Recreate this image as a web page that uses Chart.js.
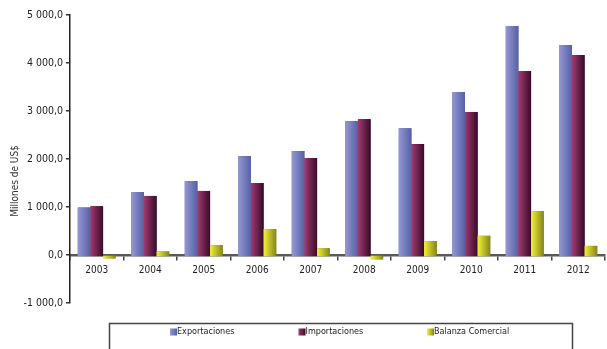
<!DOCTYPE html>
<html>
<head>
<meta charset="utf-8">
<script src="https://cdn.jsdelivr.net/npm/chart.js@4/dist/chart.umd.min.js"></script>
<style>
  html, body { margin: 0; padding: 0; background: #fff; }
  #wrap { width: 607px; height: 349px; }
</style>
</head>
<body>
<div id="wrap"><canvas id="chart"></canvas></div>
<script>
// ====== Data ======
const years = ["2003", "2004", "2005", "2006", "2007", "2008", "2009", "2010", "2011", "2012"];
const exportaciones = [990, 1310, 1540, 2060, 2165, 2790, 2640, 3395, 4770, 4375];
const importaciones = [1015, 1230, 1335, 1500, 2020, 2830, 2310, 2980, 3830, 4165];
const balanza = [-35, 75, 205, 540, 140, -55, 290, 400, 915, 190];
const yTicks = [-1000, 0, 1000, 2000, 3000, 4000, 5000];

const FONT = '"Liberation Sans Narrow", "DejaVu Sans Condensed", "Arial Narrow", sans-serif';

// light -> dark, left to right
const shades = [
  ["#9498d2", "#5660a6"],
  ["#a03c72", "#3a0a28"],
  ["#f2f236", "#84841c"]
];

function fmt(v) {
  const neg = v < 0;
  const s = Math.abs(v).toFixed(0).replace(/\B(?=(\d{3})+(?!\d))/g, " ");
  return (neg ? "-" : "") + s + ",0";
}

function grad(ctx, x0, x1, pair) {
  const g = ctx.createLinearGradient(x0, 0, x1, 0);
  g.addColorStop(0, pair[0]);
  g.addColorStop(1, pair[1]);
  return g;
}

// ====== Plugins ======
const shadedBars = {
  id: "shadedBars",
  afterDatasetsDraw(chart) {
    const ctx = chart.ctx;
    chart.data.datasets.forEach((ds, i) => {
      const meta = chart.getDatasetMeta(i);
      meta.data.forEach(bar => {
        const x0 = bar.x - bar.width / 2, x1 = bar.x + bar.width / 2;
        const top = Math.min(bar.y, bar.base), bot = Math.max(bar.y, bar.base) + 2;
        ctx.fillStyle = grad(ctx, x0, x1, shades[i]);
        ctx.fillRect(x0, top, bar.width, bot - top);
      });
    });
  }
};

const sideTitle = {
  id: "sideTitle",
  afterDraw(chart) {
    const ctx = chart.ctx;
    ctx.save();
    ctx.translate(15, 181);
    ctx.rotate(-Math.PI / 2);
    ctx.font = "10px " + FONT;
    ctx.fillStyle = "#333";
    ctx.textAlign = "center";
    ctx.textBaseline = "middle";
    ctx.fillText("Millones de US$", 0, 0);
    ctx.restore();
  }
};

const boxLegend = {
  id: "boxLegend",
  afterDraw(chart) {
    const ctx = chart.ctx;
    ctx.save();
    ctx.strokeStyle = "#444";
    ctx.lineWidth = 1.5;
    ctx.strokeRect(109.5, 323.5, 463, 40);
    ctx.font = "9px " + FONT;
    ctx.textBaseline = "middle";
    chart.data.datasets.forEach((ds, i) => {
      const x = 170 + i * 128.5, y = 332;
      ctx.fillStyle = grad(ctx, x, x + 7, shades[i]);
      ctx.fillRect(x, y - 3.5, 7, 7);
      ctx.fillStyle = "#222";
      ctx.fillText(ds.label, x + 7, y);
    });
    ctx.restore();
  }
};

// ====== Chart ======
new Chart(document.getElementById("chart"), {
  type: "bar",
  data: {
    labels: years,
    datasets: [
      { label: "Exportaciones", data: exportaciones, backgroundColor: shades[0][1] },
      { label: "Importaciones", data: importaciones, backgroundColor: shades[1][1] },
      { label: "Balanza Comercial", data: balanza, backgroundColor: shades[2][1] }
    ]
  },
  options: {
    responsive: true,
    maintainAspectRatio: false,
    animation: false,
    layout: { padding: { top: 15, right: 2, bottom: 46, left: 0 } },
    datasets: { bar: { categoryPercentage: 0.71, barPercentage: 1.0 } },
    plugins: { legend: { display: false }, tooltip: { enabled: false } },
    scales: {
      x: {
        position: { y: 0 },
        z: 1,
        afterFit(scale) { scale.height = 0; },
        grid: { drawOnChartArea: false, offset: true, tickLength: 4, color: "#444", lineWidth: 1.5 },
        border: { color: "#5a5a5a", width: 2.5 },
        ticks: { color: "#222", font: { family: FONT, size: 10 }, padding: 5, maxRotation: 0 }
      },
      y: {
        min: -1000,
        max: 5000,
        afterFit(scale) { scale.width = 70; },
        afterBuildTicks(scale) { scale.ticks = yTicks.map(v => ({ value: v })); },
        grid: { drawOnChartArea: false, tickLength: 4, color: "#333", lineWidth: 1.5 },
        border: { color: "#222", width: 1.5 },
        ticks: { color: "#222", font: { family: FONT, size: 10.5 }, padding: 3, callback: v => fmt(v) }
      }
    }
  },
  plugins: [shadedBars, sideTitle, boxLegend]
});
</script>
</body>
</html>
